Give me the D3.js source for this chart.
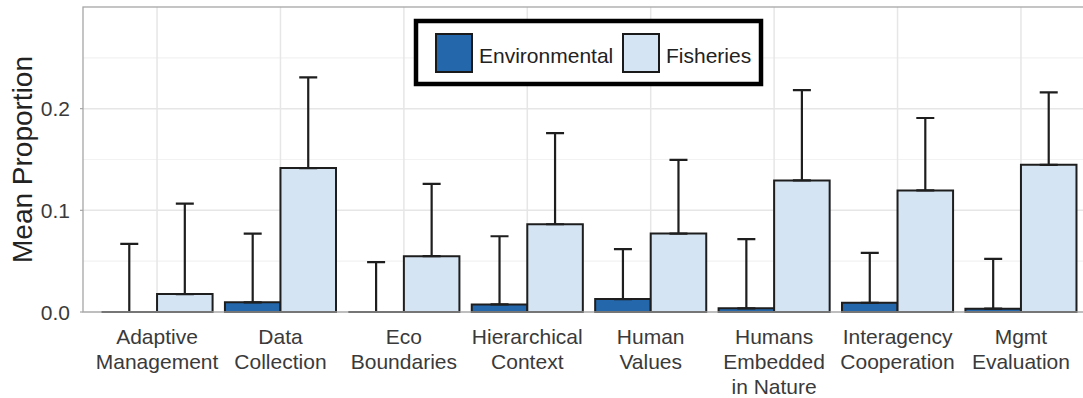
<!DOCTYPE html>
<html><head><meta charset="utf-8">
<script src="https://cdn.jsdelivr.net/npm/d3@7"></script>
<style>
html,body{margin:0;padding:0;background:#fff;overflow:hidden}
text{font-family:"Liberation Sans",Arial,Helvetica,sans-serif}
</style></head>
<body>
<svg id="chart" width="1083" height="398"></svg>
<script>
const categories = ["Adaptive\nManagement","Data\nCollection","Eco\nBoundaries","Hierarchical\nContext","Human\nValues","Humans\nEmbedded\nin Nature","Interagency\nCooperation","Mgmt\nEvaluation"];
const series = ["Environmental","Fisheries"];
const envMean  = [0.000, 0.0095, 0.000, 0.0075, 0.0127, 0.0036, 0.0091, 0.0033];
const envUpper = [0.067, 0.077, 0.049, 0.0745, 0.0618, 0.0716, 0.0582, 0.0523];
const fishMean  = [0.0176, 0.1416, 0.0549, 0.0863, 0.0771, 0.1294, 0.1196, 0.1448];
const fishUpper = [0.1066, 0.2307, 0.126, 0.176, 0.1497, 0.2183, 0.1908, 0.216];
const yTicks = [0, 0.1, 0.2];
const yMinor = [0.05, 0.15, 0.25];
const colors = ["#2467ab","#d4e4f3"];

(function(){
const svg = d3.select("#chart");
const pL = 83, pR = 1095, pT = 7, pB = 312;

const x = d3.scalePoint().domain(categories).range([pL, pR]).padding(0.6);
const step = x.step();
const xs = d3.scaleBand().domain(series).range([-0.45*step, 0.45*step]).padding(0);
const y = d3.scaleLinear().domain([0, 0.3]).range([pB, pT]);

// grid
const g = svg.append("g");
g.selectAll(".minor").data(yMinor).join("line").attr("class","minor")
  .attr("x1", pL).attr("x2", pR).attr("y1", d=>y(d)).attr("y2", d=>y(d))
  .attr("stroke", "#f2f2f2").attr("stroke-width", 1.2);
g.selectAll(".major").data(yTicks).join("line").attr("class","major")
  .attr("x1", pL).attr("x2", pR).attr("y1", d=>y(d)).attr("y2", d=>y(d))
  .attr("stroke", "#e6e6e6").attr("stroke-width", 1.5);
g.selectAll(".vgrid").data(categories).join("line").attr("class","vgrid")
  .attr("x1", d=>x(d)).attr("x2", d=>x(d)).attr("y1", pT).attr("y2", pB)
  .attr("stroke", "#e6e6e6").attr("stroke-width", 1.5);

// data rows
const rows = [];
categories.forEach((c,i)=>{
  rows.push({cat:c, s:series[0], mean:envMean[i], upper:envUpper[i], color:colors[0]});
  rows.push({cat:c, s:series[1], mean:fishMean[i], upper:fishUpper[i], color:colors[1]});
});

// bars as paths (so zero-height bars still draw)
svg.append("g").selectAll("path").data(rows).join("path")
  .attr("d", d=>{
    const x0 = x(d.cat)+xs(d.s), w = xs.bandwidth(), y0 = y(0), y1 = y(d.mean);
    return `M${x0},${y0}V${y1}H${x0+w}V${y0}Z`;
  })
  .attr("fill", d=>d.color).attr("stroke", "#1e1e1e").attr("stroke-width", 2);

// error bars
const capW = 18;
const eb = svg.append("g").attr("stroke", "#1e1e1e").attr("stroke-width", 2.2).attr("fill","none");
eb.selectAll("path").data(rows).join("path")
  .attr("d", d=>{
    const cx = x(d.cat)+xs(d.s)+xs.bandwidth()/2;
    const ya = y(d.mean), yb = y(d.upper);
    return `M${cx-capW/2},${yb}H${cx+capW/2}M${cx},${yb}V${ya}M${cx-capW/2},${ya}H${cx+capW/2}`;
  });

// panel border
svg.append("rect").attr("x", pL).attr("y", pT).attr("width", pR-pL).attr("height", pB-pT)
  .attr("fill","none").attr("stroke","#a6a6a6").attr("stroke-width",1.3);

// y axis labels
svg.append("g").selectAll("text").data(yTicks).join("text")
  .attr("x", 70).attr("y", d=>y(d)).attr("dy","0.36em").attr("text-anchor","end")
  .attr("font-size", 21).attr("fill","#3a3a3a").text(d=>d3.format(".1f")(d));
svg.append("g").selectAll("line").data(yTicks).join("line")
  .attr("x1", pL-3).attr("x2", pL).attr("y1", d=>y(d)).attr("y2", d=>y(d))
  .attr("stroke","#a6a6a6").attr("stroke-width",1.2);

// y title
svg.append("text").attr("transform", `translate(32,${(pT+pB)/2}) rotate(-90)`)
  .attr("text-anchor","middle").attr("font-size", 28).attr("fill","#222").text("Mean Proportion");

// x labels
const xl = svg.append("g").selectAll("text").data(categories).join("text")
  .attr("x", d=>x(d)).attr("y", 344).attr("text-anchor","middle")
  .attr("font-size", 21).attr("fill","#3a3a3a");
xl.each(function(d){
  const t = d3.select(this);
  d.split("\n").forEach((line,i)=>{
    t.append("tspan").attr("x", x(d)).attr("dy", i===0?0:25).text(line);
  });
});

// legend
const lg = svg.append("g");
lg.append("rect").attr("x", 416).attr("y", 21).attr("width", 345).attr("height", 63)
  .attr("fill","#fff").attr("stroke","#000").attr("stroke-width",4.5);
const keyX = [436, 623];
const textX = [479, 666];
series.forEach((s,i)=>{
  lg.append("rect").attr("x", keyX[i]).attr("y", 34).attr("width", 36).attr("height", 38)
    .attr("fill", colors[i]).attr("stroke","#1a1a1a").attr("stroke-width",2);
  lg.append("text").attr("x", textX[i]).attr("y", 55).attr("dy","0.36em")
    .attr("font-size", 21).attr("fill","#222").text(s);
});
})();
</script>
</body></html>
